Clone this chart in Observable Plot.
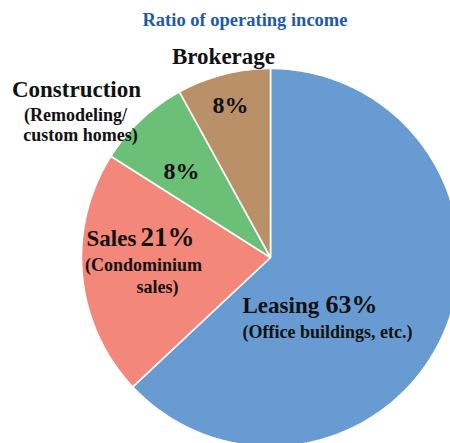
<!DOCTYPE html>
<html>
<head>
<meta charset="utf-8">
<script src="https://cdn.jsdelivr.net/npm/d3@7"></script>
<script src="https://cdn.jsdelivr.net/npm/@observablehq/plot@0.6"></script>
<style>
  html, body { margin: 0; padding: 0; background: #fff; overflow: hidden; }
  #title {
    width: 450px; height: 36px; box-sizing: border-box;
    padding-left: 40px; padding-top: 2px;
    text-align: center; line-height: 36px;
    font-family: "Liberation Serif", "Times New Roman", serif;
    font-weight: bold; font-size: 18.5px; color: #1E5AA8;
  }
</style>
</head>
<body>
<div id="title">Ratio of operating income</div>
<div id="chart"></div>
<script>
// ---- data ----
const segments = ["Leasing", "Sales", "Construction", "Brokerage"];
const shares = [63, 21, 8, 8];
const colors = ["#679BD2", "#F3877A", "#6BBF77", "#B99068"];

// ---- layout ----
const W = 450, H = 407;
const CX = 270, CY = 221, R = 189; // pie centre & radius in px
const px = v => (v - CX) / R;
const py = v => (CY - v) / R;
const TOP = 36; // height of html title above svg

// wedges from the data via d3.pie (clockwise from 12 o'clock)
const arcs = d3.pie().sort(null)(shares);
const wedges = arcs.map((a, i) => {
  const n = Math.max(2, Math.ceil((a.endAngle - a.startAngle) / (Math.PI / 180)));
  const pts = [{x: 0, y: 0}];
  for (let k = 0; k <= n; k++) {
    const t = a.startAngle + (a.endAngle - a.startAngle) * k / n;
    pts.push({x: Math.sin(t), y: Math.cos(t)});
  }
  pts.push({x: 0, y: 0});
  return {seg: segments[i], color: colors[i], pts};
});

const pct = shares.map(v => v + "%");

// label annotations: [text, page x, page baseline y, size, anchor]
const labels = [
  ["Brokerage", 223, 63, 23, "middle"],
  [pct[3], 230, 112, 24, "middle"],
  ["Construction", 76, 96, 23, "middle"],
  ["(Remodeling/", 75, 120, 18, "middle"],
  ["custom homes)", 80, 140, 18, "middle"],
  [pct[2], 181, 178, 24, "middle"],
  ["Sales", 86, 245, 23, "start"],
  [pct[1], 140, 245, 27, "start"],
  ["(Condominium", 143, 270, 18, "middle"],
  ["sales)", 157, 292, 18, "middle"],
  ["Leasing", 242, 312, 23, "start"],
  [pct[0], 325, 312, 26, "start"],
  ["(Office buildings, etc.)", 242, 337, 18, "start"]
];

const marks = wedges.map(w => Plot.line(w.pts, {
  x: "x", y: "y", fill: w.color, stroke: "white", strokeWidth: 1.6,
  strokeLinejoin: "miter", strokeLinecap: "butt"
}));

labels.forEach(([t, x, y, s, anchor]) => {
  marks.push(Plot.text([t], {
    x: () => px(x), y: () => py(y - TOP), text: d => d,
    fontSize: s, fontWeight: "bold", textAnchor: anchor,
    lineAnchor: "bottom", fill: "#111"
  }));
});

const chart = Plot.plot({
  width: W, height: H,
  marginTop: 0, marginRight: 0, marginBottom: 0, marginLeft: 0,
  x: {domain: [px(0), px(W)], axis: null},
  y: {domain: [py(H), py(0)], axis: null},
  style: {fontFamily: "'Liberation Serif', 'Times New Roman', serif", background: "white", overflow: "hidden"},
  marks
});
document.getElementById("chart").appendChild(chart);
</script>
</body>
</html>
